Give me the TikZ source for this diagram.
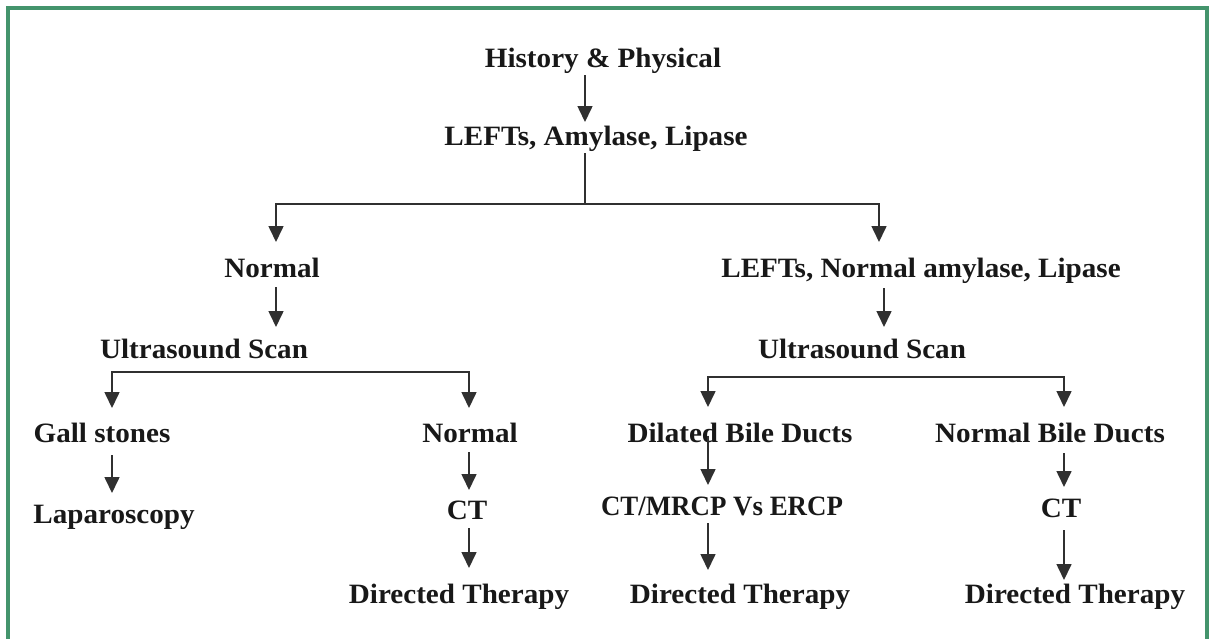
\documentclass[tikz,border=0pt]{standalone}
\usepackage{fontspec}
\setmainfont{Liberation Serif}[FakeStretch=1.04]
\newfontfamily\narrowserif{Liberation Serif}[FakeStretch=0.96]
\usetikzlibrary{arrows.meta}
\definecolor{frame}{RGB}{68,148,108}
\definecolor{ink}{RGB}{24,24,24}
\definecolor{wire}{RGB}{48,48,48}
\begin{document}
\begin{tikzpicture}[x=1pt,y=-1pt,
  lbl/.style={inner sep=0pt, outer sep=0pt, anchor=base,
    text height=19pt, text depth=6pt,
    font=\fontsize{28}{34}\selectfont\bfseries, text=ink},
  link/.style={draw=wire, line width=1.6pt},
  arr/.style={link, -{Triangle[length=16pt,width=15pt]}},
]
\useasboundingbox (0,0) rectangle (1212,638);
% green frame, its lower edge runs past the page
\draw[frame, line width=3.5pt] (8,644) -- (8,8) -- (1207,8) -- (1207,644);

% columns of the vertical connectors
\coordinate (x585) at (585,0);
\coordinate (x276) at (276,0);
\coordinate (x879) at (879,0);
\coordinate (x884) at (884,0);
\coordinate (x112) at (112,0);
\coordinate (x469) at (469,0);
\coordinate (x708) at (708,0);
\coordinate (x1064) at (1064,0);

% labels
\node[lbl] (hp)     at (603,67)  {History \& Physical};
\node[lbl] (lefts)  at (596,145) {LEFTs, Amylase, Lipase};
\node[lbl] (normL)  at (272,277) {Normal};
\node[lbl] (leftsN) at (921,277) {LEFTs, Normal amylase, Lipase};
\node[lbl] (usL)    at (204,358) {Ultrasound Scan};
\node[lbl] (usR)    at (862,358) {Ultrasound Scan};
\node[lbl] (gall)   at (102,442) {Gall stones};
\node[lbl] (normM)  at (470,442) {Normal};
\node[lbl] (dil)    at (740,442) {Dilated Bile Ducts};
\node[lbl] (nbd)    at (1050,442) {Normal Bile Ducts};
\node[lbl] (lap)    at (114,523) {Laparoscopy};
\node[lbl] (ctM)    at (467,519) {CT};
\node[lbl, font=\narrowserif\fontsize{28}{34}\selectfont\bfseries] (cmr) at (722,515) {CT/MRCP Vs ERCP};
\node[lbl] (ctR)    at (1061,517) {CT};
\node[lbl] (dirM)   at (459,603) {Directed Therapy};
\node[lbl] (dirR)   at (740,603) {Directed Therapy};
\node[lbl] (dirRR)  at (1075,603) {Directed Therapy};

% branch bars
\coordinate (tb) at (585,204);
\coordinate (bl) at (290,372);
\coordinate (br) at (886,377);

% top of the tree
\draw[arr, shorten <=2pt, shorten >=4pt] (hp.south -| x585) -- (lefts.north -| x585);
\draw[link, shorten <=2pt] (lefts.south -| tb) -- (tb);
\draw[arr, shorten >=16pt] (tb) -| (normL.north -| x276);
\draw[arr, shorten >=16pt] (tb) -| (leftsN.north -| x879);

% left branch
\draw[arr, shorten <=4pt, shorten >=12pt] (normL.south -| x276) -- (usL.north -| x276);
\draw[arr, shorten >=15pt] (bl) -| (gall.north -| x112);
\draw[arr, shorten >=15pt] (bl) -| (normM.north -| x469);
\draw[arr, shorten <=7pt, shorten >=11pt] (gall.south -| x112) -- (lap.north -| x112);
\draw[arr, shorten <=4pt, shorten >=10pt] (normM.south -| x469) -- (ctM.north -| x469);
\draw[arr, shorten <=3pt, shorten >=16pt] (ctM.south -| x469) -- (dirM.north -| x469);

% right branch
\draw[arr, shorten <=5pt, shorten >=12pt] (leftsN.south -| x884) -- (usR.north -| x884);
\draw[arr, shorten >=16pt] (br) -| (dil.north -| x708);
\draw[arr, shorten >=16pt] (br) -| (nbd.north -| x1064);
\draw[arr, shorten >=11pt] (dil.center -| x708) -- (cmr.north -| x708);
\draw[arr, shorten <=2pt, shorten >=14pt] (cmr.south -| x708) -- (dirR.north -| x708);
\draw[arr, shorten <=5pt, shorten >=11pt] (nbd.south -| x1064) -- (ctR.north -| x1064);
\draw[arr, shorten <=7pt, shorten >=4pt] (ctR.south -| x1064) -- (dirRR.north -| x1064);
\end{tikzpicture}
\end{document}
